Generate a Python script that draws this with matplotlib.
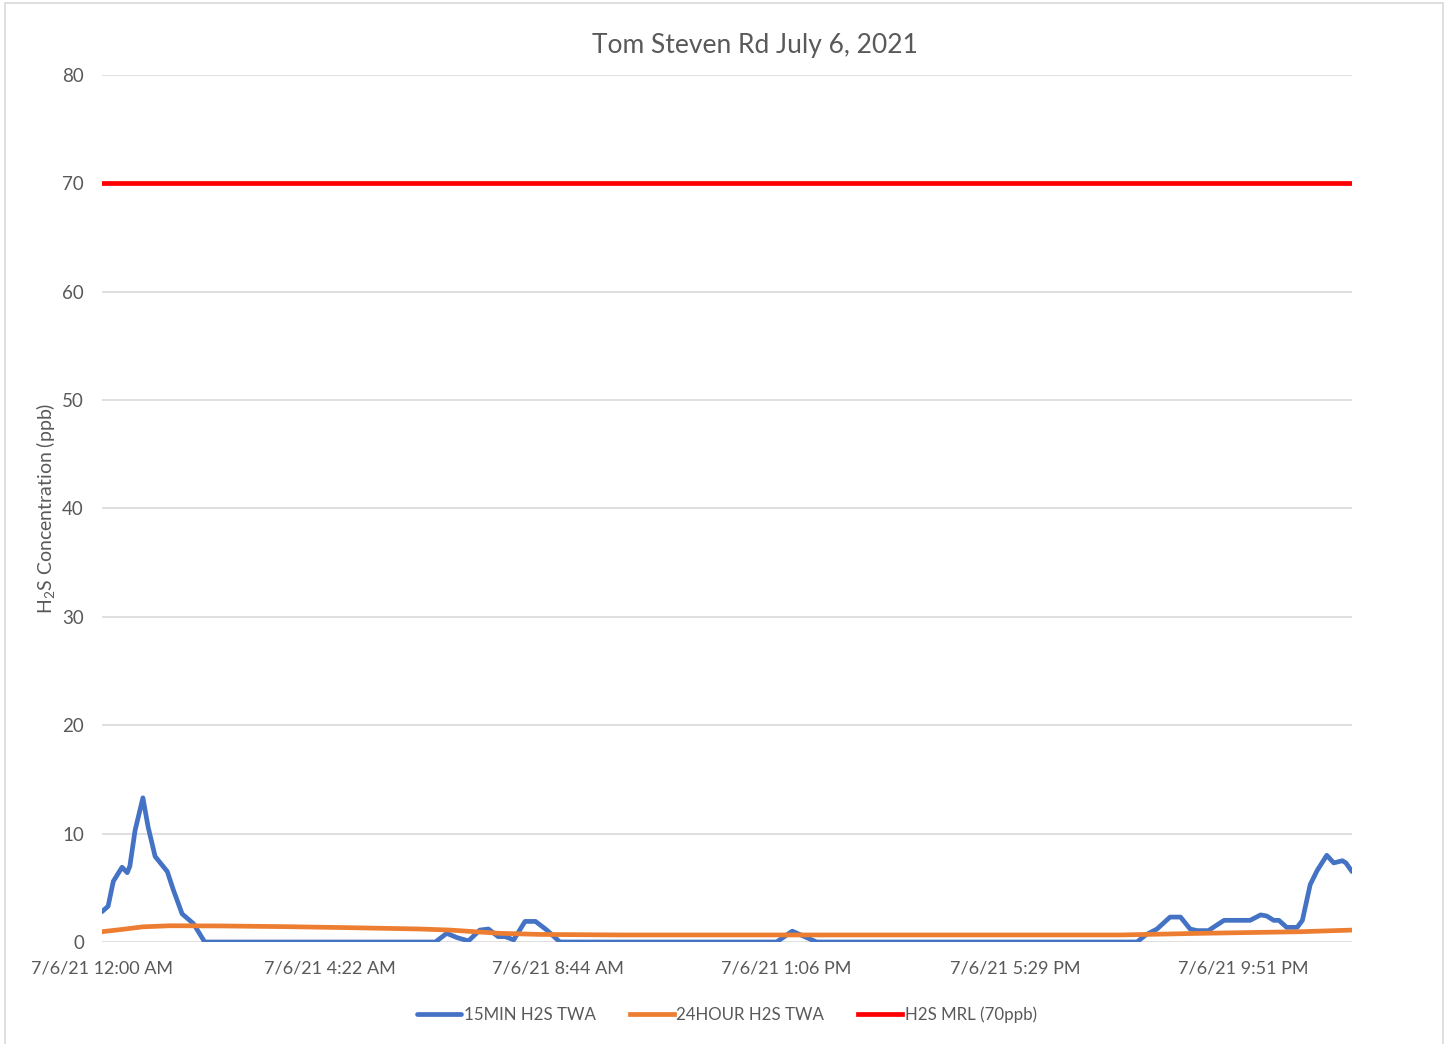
import matplotlib
matplotlib.use("Agg")
import matplotlib.pyplot as plt
from matplotlib.patches import Rectangle

# minutes after midnight, 7/6/21
twa15_min = [0, 7, 13, 23, 29, 32, 38, 47, 53, 61, 75, 82, 92, 105, 113, 118,
             383, 396, 408, 421, 434, 444, 455, 463, 473, 486, 498, 511, 526,
             775, 793, 821,
             1189, 1199, 1212, 1227, 1239, 1250, 1258, 1271, 1289, 1319, 1331,
             1338, 1346, 1352, 1361, 1373, 1379, 1388, 1396, 1407, 1415, 1425,
             1429, 1436]
twa15_val = [2.8, 3.3, 5.6, 6.9, 6.4, 7.0, 10.3, 13.3, 10.6, 7.9, 6.5, 4.8, 2.6, 1.7, 0.65, 0,
             0, 0.8, 0.4, 0.1, 1.1, 1.2, 0.5, 0.5, 0.2, 1.9, 1.9, 1.1, 0,
             0, 1.0, 0,
             0, 0.65, 1.2, 2.3, 2.3, 1.2, 1.05, 1.05, 2.0, 2.0, 2.5,
             2.4, 2.0, 2.0, 1.35, 1.35, 2.0, 5.3, 6.6, 8.0, 7.3, 7.5,
             7.3, 6.5]

twa24_min = [0, 24, 47, 78, 139, 216, 285, 365, 400, 457, 503, 595, 1170, 1262, 1377, 1436]
twa24_val = [0.95, 1.17, 1.4, 1.5, 1.48, 1.41, 1.32, 1.2, 1.1, 0.8, 0.7, 0.65, 0.65, 0.8, 0.95, 1.1]

mrl = 70

tick_min = [0, 262, 524, 786, 1049, 1311]
tick_labels = ["7/6/21 12:00 AM", "7/6/21 4:22 AM", "7/6/21 8:44 AM",
               "7/6/21 1:06 PM", "7/6/21 5:29 PM", "7/6/21 9:51 PM"]

plt.rcParams['font.family'] = ['Lato', 'DejaVu Sans']
plt.rcParams['mathtext.fontset'] = 'custom'
plt.rcParams['mathtext.rm'] = 'Lato'
txt = '#595959'

fig = plt.figure(figsize=(14.47, 10.44), dpi=100)
ax = fig.add_axes([102 / 1447, 1 - 942 / 1044, 1250 / 1447, 867 / 1044])

ax.plot(twa15_min, twa15_val, color='#4472c4', lw=3.4, label='15MIN H2S TWA',
        zorder=3, solid_joinstyle='round', solid_capstyle='round')
ax.plot(twa24_min, twa24_val, color='#ed7d31', lw=3.4, label='24HOUR H2S TWA', zorder=4)
ax.axhline(mrl, color='#ff0000', lw=3.4, label='H2S MRL (70ppb)', zorder=5)

ax.set_xlim(0, 1436)
ax.set_ylim(0, 80)
ax.set_yticks(range(0, 81, 10))
ax.set_xticks(tick_min)
ax.set_xticklabels(tick_labels)
ax.grid(axis='y', color='#d9d9d9', lw=1.2)
ax.set_axisbelow(True)
for s in ax.spines.values():
    s.set_visible(False)
ax.tick_params(length=0, labelsize=13.5, labelcolor=txt)
ax.tick_params(axis='x', pad=13, labelsize=13)
ax.tick_params(axis='y', pad=13)

fig.text(755 / 1447, 1 - 46 / 1044, 'Tom Steven Rd July 6, 2021', fontsize=19,
         color=txt, ha='center', va='center')
ax.set_ylabel('H$_2$S Concentration (ppb)', fontsize=14, color=txt, labelpad=3)

fig.legend(loc='center', bbox_to_anchor=(727 / 1447, 1 - 1015 / 1044), ncol=3,
           frameon=False, fontsize=12.2, handlelength=2.6, handletextpad=0.15,
           columnspacing=2.0, labelcolor=txt)

fig.add_artist(Rectangle((5 / 1447, -0.02), 1438 / 1447, 1.02 - 3 / 1044,
                         transform=fig.transFigure, fill=False,
                         edgecolor='#d9d9d9', lw=1.2))

fig.savefig('out.png', dpi=100)
